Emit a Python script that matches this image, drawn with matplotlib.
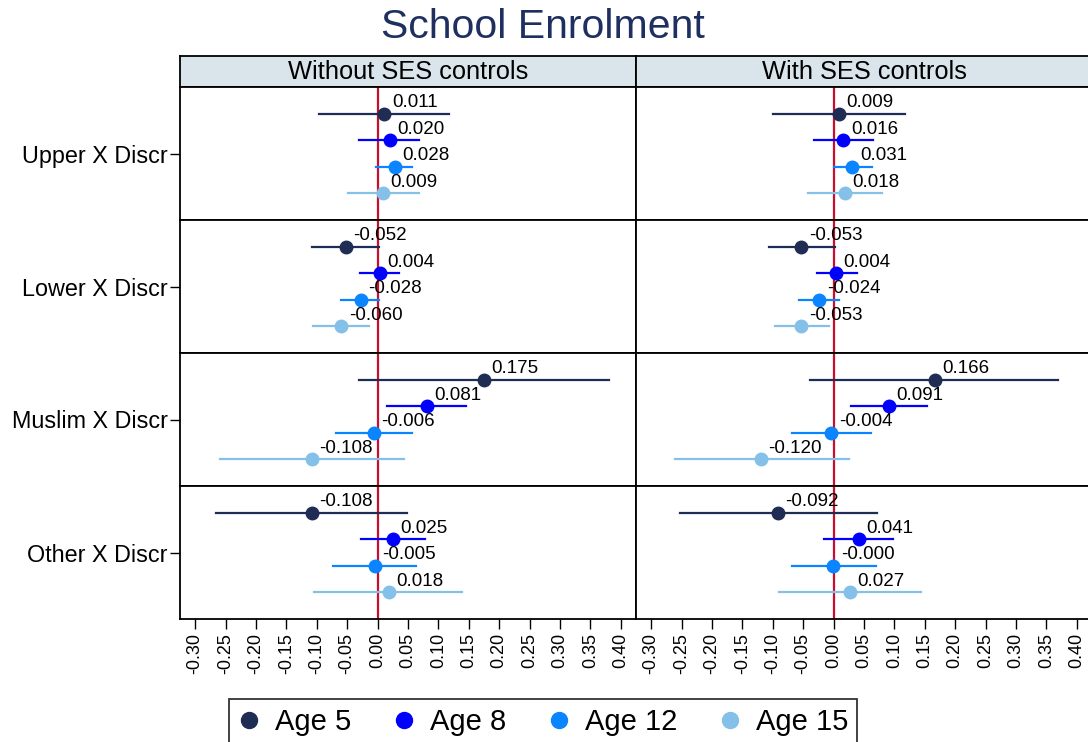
import numpy as np
import matplotlib.pyplot as plt
from matplotlib.lines import Line2D

plt.rcParams['font.family'] = ['Liberation Sans', 'DejaVu Sans']

rows = ['Upper X Discr', 'Lower X Discr', 'Muslim X Discr', 'Other X Discr']
ages = ['Age 5', 'Age 8', 'Age 12', 'Age 15']
panels = ['Without SES controls', 'With SES controls']
colors = ['#1f2d54', '#0000ff', '#0a84ff', '#85c0e9']

# coefficients and 95% CI, rows x ages
coef_without = [[0.011, 0.020, 0.028, 0.009],
                [-0.052, 0.004, -0.028, -0.060],
                [0.175, 0.081, -0.006, -0.108],
                [-0.108, 0.025, -0.005, 0.018]]
lo_without = [[-0.096, -0.030, -0.002, -0.049],
              [-0.108, -0.029, -0.060, -0.107],
              [-0.030, 0.016, -0.069, -0.260],
              [-0.266, -0.028, -0.073, -0.104]]
hi_without = [[0.117, 0.068, 0.057, 0.068],
              [0.003, 0.036, 0.003, -0.014],
              [0.380, 0.145, 0.057, 0.044],
              [0.048, 0.078, 0.063, 0.139]]

coef_with = [[0.009, 0.016, 0.031, 0.018],
             [-0.053, 0.004, -0.024, -0.053],
             [0.166, 0.091, -0.004, -0.120],
             [-0.092, 0.041, -0.0004, 0.027]]
lo_with = [[-0.099, -0.033, 0.000, -0.042],
           [-0.107, -0.028, -0.057, -0.096],
           [-0.038, 0.028, -0.068, -0.261],
           [-0.252, -0.015, -0.068, -0.089]]
hi_with = [[0.117, 0.065, 0.063, 0.079],
           [0.003, 0.038, 0.009, -0.008],
           [0.369, 0.154, 0.061, 0.025],
           [0.071, 0.097, 0.069, 0.144]]

xticks = np.round(np.arange(-0.30, 0.401, 0.05), 2) + 0.0

W, H = 1088, 742
fig = plt.figure(figsize=(W / 100, H / 100), dpi=100)


def fx(px):
    return px / W


def fy(py):
    return 1 - py / H


fig.text(fx(543), fy(27), 'School Enrolment', ha='center', va='center',
         fontsize=29.5, color='#1f3060')

gs = fig.add_gridspec(4, 2, left=fx(180), right=fx(1092), top=fy(87),
                      bottom=fy(619), hspace=0, wspace=0)

data = [(coef_without, lo_without, hi_without), (coef_with, lo_with, hi_with)]

for c, (coef, lo, hi) in enumerate(data):
    # header strip
    hax = fig.add_axes([fx(180 + 456 * c), fy(87), 456 / W, 31 / H])
    hax.set_facecolor('#d9e5ea')
    hax.set_xticks([])
    hax.set_yticks([])
    for s in hax.spines.values():
        s.set_linewidth(1.3)
    hax.text(0.5, 0.47, panels[c], ha='center', va='center', fontsize=18.3,
             transform=hax.transAxes)

    for r in range(4):
        ax = fig.add_subplot(gs[r, c])
        ax.set_xlim(-0.325, 0.425)
        ax.set_ylim(0, 5)
        ax.axvline(0, color='#c8102e', lw=1.6, zorder=1)
        for k in range(4):
            y = 4 - k
            ax.plot([lo[r][k], hi[r][k]], [y, y], color=colors[k], lw=1.6, zorder=2)
            ax.plot(coef[r][k], y, 'o', ms=9, color=colors[k], zorder=3)
            ax.annotate(f'{coef[r][k]:.3f}', (coef[r][k], y), xytext=(5.5, 8),
                        textcoords='offset points', ha='left', va='center',
                        fontsize=13.5, zorder=4)
        for s in ax.spines.values():
            s.set_linewidth(1.3)

        if c == 0:
            ax.set_yticks([2.5])
            ax.set_yticklabels([rows[r]], fontsize=16.8)
            ax.tick_params(axis='y', length=7, width=1, pad=2)
        else:
            ax.set_yticks([])

        if r == 3:
            ax.set_xticks(xticks)
            ax.set_xticklabels([f'{t:.2f}' for t in xticks], rotation=90,
                               fontsize=13)
            ax.tick_params(axis='x', length=7, width=1, pad=3)
        else:
            ax.set_xticks([])

handles = [Line2D([], [], marker='o', ls='', ms=11.5, color=col) for col in colors]
leg = fig.legend(handles, ages, loc='upper center', bbox_to_anchor=(fx(543), fy(699)),
                 ncol=4, fontsize=21, frameon=True, fancybox=False,
                 edgecolor='black', handlelength=0.8, handletextpad=0.5,
                 columnspacing=1.4, borderpad=0.3, borderaxespad=0)
leg.get_frame().set_linewidth(1.3)

fig.savefig('out.png', dpi=100)
